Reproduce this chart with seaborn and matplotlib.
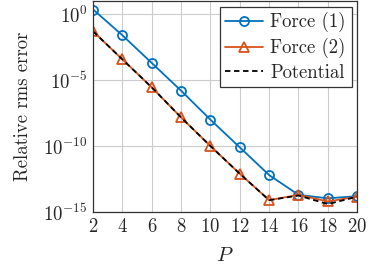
import numpy as np
import pandas as pd
import matplotlib
matplotlib.use("Agg")
import matplotlib.pyplot as plt
import seaborn as sns

# order of expansion
P = [2, 4, 6, 8, 10, 12, 14, 16, 18, 20]
# log10 of relative rms error
force1_log = [0.36, -1.6, -3.7, -5.8, -8.0, -10.1, -12.2, -13.7, -13.96, -13.8]
force2_log = [-1.3, -3.43, -5.55, -7.83, -10.0, -12.1, -14.1, -13.7, -14.2, -13.84]
potential_log = [-1.3, -3.43, -5.55, -7.83, -10.0, -12.1, -14.1, -13.75, -14.4, -13.84]

df = pd.DataFrame({
    "P": P,
    "Force (1)": 10.0 ** np.array(force1_log),
    "Force (2)": 10.0 ** np.array(force2_log),
    "Potential": 10.0 ** np.array(potential_log),
})

sns.set_style("whitegrid")
plt.rcParams["font.family"] = ["cmr10", "DejaVu Serif"]
plt.rcParams["mathtext.fontset"] = "cm"
plt.rcParams["axes.formatter.use_mathtext"] = True
plt.rcParams["axes.unicode_minus"] = False

fig = plt.figure(figsize=(3.74, 2.66), dpi=100)
ax = fig.add_axes([0.249, 0.203, 0.706, 0.793])

sns.lineplot(data=df, x="P", y="Force (1)", ax=ax, color="#0072BD", lw=1.3,
             marker="o", markersize=6.5, markerfacecolor="none",
             markeredgecolor="#0072BD", markeredgewidth=1.3, label="Force (1)")
sns.lineplot(data=df, x="P", y="Force (2)", ax=ax, color="#D95319", lw=1.3,
             marker="^", markersize=6.5, markerfacecolor="none",
             markeredgecolor="#D95319", markeredgewidth=1.3, label="Force (2)")
sns.lineplot(data=df, x="P", y="Potential", ax=ax, color="black", lw=1.3,
             linestyle=(0, (3, 2)), label="Potential")

ax.set_yscale("log")
ax.set_ylim(1e-15, 1e1)
ax.set_xlim(2, 20)
ax.set_xticks(P)
ax.set_yticks([1e-15, 1e-10, 1e-5, 1e0])
ax.yaxis.set_minor_locator(matplotlib.ticker.NullLocator())
ax.set_xlabel("$P$", fontsize=15, labelpad=8)
ax.set_ylabel("Relative rms error", fontsize=13.5, labelpad=8)
ax.tick_params(labelsize=13.5, direction="in", length=0, pad=4)
ax.grid(True, color="#cccccc", lw=0.8)
for s in ax.spines.values():
    s.set_color("#333333")
    s.set_linewidth(0.9)

leg = ax.legend(loc="upper right", fontsize=13.5, frameon=True, fancybox=False,
                edgecolor="#333333", framealpha=1, borderpad=0.3,
                labelspacing=0.3, handlelength=2.0, handletextpad=0.4,
                borderaxespad=0.3)
leg.get_frame().set_linewidth(0.9)

fig.savefig("out.png", dpi=100)
